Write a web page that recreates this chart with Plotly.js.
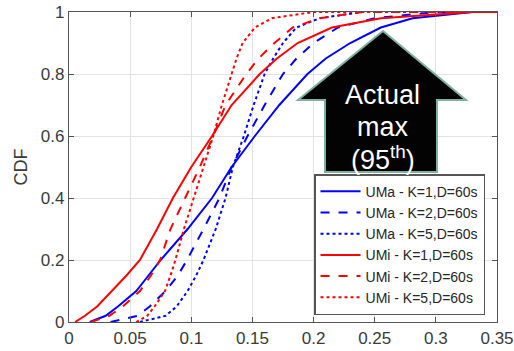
<!DOCTYPE html>
<html>
<head>
<meta charset="utf-8">
<script src="https://cdn.plot.ly/plotly-3.0.1.min.js"></script>
<style>html,body{margin:0;padding:0;background:#fff;}#chart{width:514px;height:351px;}</style>
</head>
<body>
<div id="chart"></div>
<script>
// CDF levels (y values) shared by all series
const cdfLevels = [0, 0.02, 0.05, 0.1, 0.15, 0.2, 0.3, 0.4, 0.5, 0.6, 0.7, 0.8, 0.85, 0.9, 0.95, 0.98, 1, 1];

// x values at each CDF level
const umaK1 = [0.017, 0.030, 0.040, 0.055, 0.065, 0.075, 0.097, 0.117, 0.133, 0.152, 0.172, 0.195, 0.210, 0.230, 0.255, 0.281, 0.33, 0.35];
const umaK2 = [0.034, 0.056, 0.066, 0.079, 0.089, 0.0965, 0.110, 0.123, 0.133, 0.146, 0.160, 0.175, 0.186, 0.200, 0.220, 0.250, 0.30, 0.35];
const umaK5 = [0.058, 0.079, 0.088, 0.097, 0.104, 0.110, 0.120, 0.128, 0.134, 0.143, 0.151, 0.160, 0.167, 0.175, 0.186, 0.205, 0.24, 0.35];
const umiK1 = [0.005, 0.013, 0.023, 0.035, 0.047, 0.058, 0.072, 0.085, 0.100, 0.117, 0.133, 0.156, 0.170, 0.187, 0.215, 0.255, 0.33, 0.35];
const umiK2 = [0.018, 0.033, 0.044, 0.058, 0.067, 0.0745, 0.083, 0.095, 0.107, 0.118, 0.128, 0.145, 0.155, 0.168, 0.183, 0.205, 0.24, 0.35];
const umiK5 = [0.055, 0.064, 0.070, 0.0785, 0.083, 0.087, 0.094, 0.102, 0.110, 0.118, 0.125, 0.133, 0.137, 0.142, 0.152, 0.166, 0.20, 0.35];

const seriesNames = ['UMa - K=1,D=60s', 'UMa - K=2,D=60s', 'UMa - K=5,D=60s',
                     'UMi - K=1,D=60s', 'UMi - K=2,D=60s', 'UMi - K=5,D=60s'];
const seriesX = [umaK1, umaK2, umaK5, umiK1, umiK2, umiK5];
const seriesColors = ['#0000ff', '#0000ff', '#0000ff', '#ff0000', '#ff0000', '#ff0000'];
const seriesDash = ['solid', 'dash', 'dot', 'solid', 'dash', 'dot'];

const xTickVals = [0, 0.05, 0.1, 0.15, 0.2, 0.25, 0.3, 0.35];
const xTickText = ['0', '0.05', '0.1', '0.15', '0.2', '0.25', '0.3', '0.35'];
const yTickVals = [0, 0.2, 0.4, 0.6, 0.8, 1];
const yTickText = ['0', '0.2', '0.4', '0.6', '0.8', '1'];

const FONT = '"Liberation Sans", Arial, Helvetica, sans-serif';

const traces = seriesNames.map((name, i) => ({
  type: 'scatter',
  mode: 'lines',
  name: name,
  x: seriesX[i],
  y: cdfLevels,
  line: {color: seriesColors[i], width: 2, dash: seriesDash[i]}
}));

const axisCommon = {
  showline: true, linecolor: '#555', linewidth: 1.2, mirror: 'ticks',
  ticks: 'inside', ticklen: 5, tickwidth: 1, tickcolor: '#555',
  showgrid: true, gridcolor: '#e3e3e3', gridwidth: 1,
  zeroline: false, tickfont: {family: FONT, size: 17, color: '#3a3a3a'}
};

const layout = {
  width: 514, height: 351,
  margin: {l: 69, r: 17, t: 12, b: 29, pad: 0},
  paper_bgcolor: '#ffffff', plot_bgcolor: '#ffffff',
  font: {family: FONT},
  showlegend: true,
  legend: {
    x: 0.972, xanchor: 'right', y: 0.022, yanchor: 'bottom',
    bgcolor: '#ffffff', bordercolor: '#555', borderwidth: 1.5,
    font: {family: FONT, size: 14, color: '#262626'},
    itemwidth: 40,
    tracegroupgap: 0
  },
  xaxis: Object.assign({}, axisCommon, {
    range: [0, 0.35], tickmode: 'array', tickvals: xTickVals, ticktext: xTickText
  }),
  yaxis: Object.assign({}, axisCommon, {
    range: [0, 1], tickmode: 'array', tickvals: yTickVals, ticktext: yTickText,
    title: {text: 'CDF', font: {family: FONT, size: 18, color: '#3a3a3a'}, standoff: 8}
  }),
  shapes: [{
    type: 'path', xref: 'paper', yref: 'paper', layer: 'above',
    path: 'M0.7336,0.9387 L0.9276,0.7161 L0.8598,0.7161 L0.8598,0.4839 L0.5981,0.4839 L0.5981,0.7161 L0.5350,0.7161 Z',
    fillcolor: '#030303', line: {color: '#80b0a2', width: 2}
  }],
  annotations: [
    {xref: 'paper', yref: 'paper', x: 0.7336, y: (322 - 95) / 310, xanchor: 'center', yanchor: 'middle',
     text: 'Actual', showarrow: false, font: {family: FONT, size: 27, color: '#ffffff'}},
    {xref: 'paper', yref: 'paper', x: 0.7336, y: (322 - 127) / 310, xanchor: 'center', yanchor: 'middle',
     text: 'max', showarrow: false, font: {family: FONT, size: 27, color: '#ffffff'}},
    {xref: 'paper', yref: 'paper', x: 0.7336, y: (322 - 158) / 310, xanchor: 'center', yanchor: 'middle',
     text: '(95<sup>th</sup>)', showarrow: false, font: {family: FONT, size: 27, color: '#ffffff'}}
  ]
};

Plotly.newPlot('chart', traces, layout, {staticPlot: true, displayModeBar: false});
</script>
</body>
</html>
